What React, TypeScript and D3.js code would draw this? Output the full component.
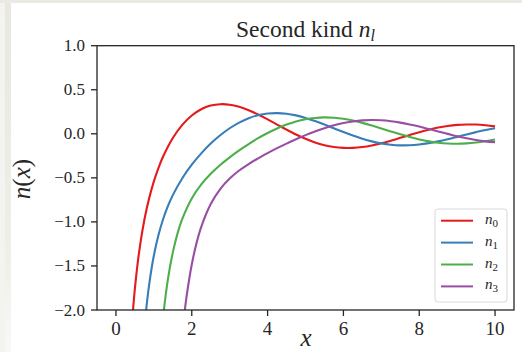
import React from "react";
import * as d3 from "d3";

// Values (x, n_l(x))
const n0Points: [number, number][] = [
  [0.4, -2.303], [0.45, -2.001], [0.5, -1.755], [0.6, -1.376], [0.75, -0.976], [0.875, -0.733],
  [1.0, -0.54], [1.125, -0.383], [1.25, -0.252], [1.5, -0.047], [1.75, 0.102], [2.0, 0.208],
  [2.25, 0.279], [2.5, 0.32], [2.75, 0.336], [3.0, 0.33], [3.25, 0.306], [3.5, 0.268],
  [3.75, 0.219], [4.0, 0.163], [4.25, 0.105], [4.5, 0.047], [4.75, -0.008], [5.0, -0.057],
  [5.25, -0.098], [5.5, -0.129], [5.75, -0.15], [6.0, -0.16], [6.25, -0.16], [6.5, -0.15],
  [6.75, -0.132], [7.0, -0.108], [7.25, -0.078], [7.5, -0.046], [7.75, -0.014], [8.0, 0.018],
  [8.25, 0.047], [8.5, 0.071], [8.75, 0.089], [9.0, 0.101], [9.25, 0.106], [9.5, 0.105],
  [9.75, 0.097], [10.0, 0.084],
];
const n1Points: [number, number][] = [
  [0.7, -2.481], [0.75, -2.21], [0.8, -1.985], [0.875, -1.714], [1.0, -1.382], [1.125, -1.143],
  [1.25, -0.961], [1.375, -0.816], [1.5, -0.696], [1.75, -0.504], [2.0, -0.351], [2.25, -0.222],
  [2.5, -0.111], [2.75, -0.017], [3.0, 0.063], [3.25, 0.127], [3.5, 0.177], [3.75, 0.211],
  [4.0, 0.23], [4.25, 0.235], [4.5, 0.228], [4.75, 0.209], [5.0, 0.18], [5.25, 0.145],
  [5.5, 0.105], [5.75, 0.062], [6.0, 0.02], [6.25, -0.02], [6.5, -0.056], [6.75, -0.086],
  [7.0, -0.109], [7.25, -0.124], [7.5, -0.131], [7.75, -0.13], [8.0, -0.121], [8.25, -0.106],
  [8.5, -0.086], [8.75, -0.062], [9.0, -0.035], [9.25, -0.007], [9.5, 0.019], [9.75, 0.043],
  [10.0, 0.063],
];
const n2Points: [number, number][] = [
  [1.2, -2.269], [1.25, -2.054], [1.375, -1.639], [1.5, -1.346], [1.625, -1.13], [1.75, -0.966],
  [2.0, -0.734], [2.25, -0.575], [2.5, -0.454], [2.75, -0.354], [3.0, -0.267], [3.25, -0.188],
  [3.5, -0.116], [3.75, -0.05], [4.0, 0.009], [4.25, 0.061], [4.5, 0.105], [4.75, 0.14],
  [5.0, 0.165], [5.25, 0.18], [5.5, 0.186], [5.75, 0.182], [6.0, 0.17], [6.25, 0.15],
  [6.5, 0.124], [6.75, 0.094], [7.0, 0.061], [7.25, 0.027], [7.5, -0.006], [7.75, -0.037],
  [8.0, -0.064], [8.25, -0.086], [8.5, -0.101], [8.75, -0.11], [9.0, -0.113], [9.25, -0.109],
  [9.5, -0.099], [9.75, -0.084], [10.0, -0.065],
];
const n3Points: [number, number][] = [
  [1.75, -2.256], [1.8, -2.06], [1.875, -1.81], [2.0, -1.484], [2.125, -1.241], [2.25, -1.056],
  [2.5, -0.797], [2.75, -0.627], [3.0, -0.508], [3.25, -0.417], [3.5, -0.343], [3.75, -0.278],
  [4.0, -0.219], [4.25, -0.163], [4.5, -0.111], [4.75, -0.062], [5.0, -0.015], [5.25, 0.027],
  [5.5, 0.064], [5.75, 0.096], [6.0, 0.122], [6.25, 0.14], [6.5, 0.152], [6.75, 0.156],
  [7.0, 0.153], [7.25, 0.143], [7.5, 0.127], [7.75, 0.106], [8.0, 0.082], [8.25, 0.054],
  [8.5, 0.026], [8.75, -0.001], [9.0, -0.028], [9.25, -0.051], [9.5, -0.071], [9.75, -0.086],
  [10.0, -0.095],
];

const seriesNames = ["0", "1", "2", "3"];
const seriesColors = ["#e41a1c", "#377eb8", "#4daf4a", "#984ea3"];
const seriesData = [n0Points, n1Points, n2Points, n3Points];

const xTicks = [0, 2, 4, 6, 8, 10];
const yTicks = [-2.0, -1.5, -1.0, -0.5, 0.0, 0.5, 1.0];

const W = 522;
const H = 352;
const TXT: React.CSSProperties = { fontFamily: "Liberation Serif" };
const INK = "#262626";

export default function App() {
  const left = 97, right = 514, top = 45.7, bottom = 310;
  const x = d3.scaleLinear().domain([-0.5, 10.5]).range([left, right]);
  const y = d3.scaleLinear().domain([-2, 1]).range([bottom, top]);
  const line = d3
    .line<[number, number]>()
    .x((d) => x(d[0]))
    .y((d) => y(d[1]))
    .curve(d3.curveCatmullRom.alpha(0.5));
  const fmt = (v: number) => (v < 0 ? "\u2212" : "") + Math.abs(v).toFixed(1);

  const legX = 435, legY = 209, legW = 72, legH = 93;
  const legStep = 21.9;

  return (
    <svg
      width={W}
      height={H}
      style={{ position: "absolute", left: 0, top: 0, display: "block" }}
    >
      <defs>
        <clipPath id="plotclip">
          <rect x={left} y={top} width={right - left} height={bottom - top} />
        </clipPath>
        <linearGradient id="strip" x1="0" y1="0" x2="0" y2="1">
          <stop offset="0" stopColor="#e8e8e0" />
          <stop offset="0.7" stopColor="#efefe9" />
          <stop offset="1" stopColor="#f8f8f5" />
        </linearGradient>
      </defs>
      <rect x={0} y={0} width={W} height={H} fill="#ffffff" />
      <rect x={0} y={0} width={5} height={H} fill="#f3f3ef" />
      <rect x={5} y={0} width={6} height={H} fill="url(#strip)" />
      <rect x={0} y={0} width={W} height={3} fill="#ebebe4" />

      {/* title */}
      <text style={TXT} x={(left + right) / 2} y={37} textAnchor="middle" fontSize={23.5} fill={INK}>
        Second kind{" "}
        <tspan fontStyle="italic">n</tspan>
        <tspan fontStyle="italic" fontSize={16} dy={4}>l</tspan>
      </text>

      {/* lines */}
      <g clipPath="url(#plotclip)">
        {seriesData.map((pts, i) => (
          <path
            key={i}
            d={line(pts) || ""}
            fill="none"
            stroke={seriesColors[i]}
            strokeWidth={2.1}
            strokeLinejoin="round"
          />
        ))}
      </g>

      {/* frame */}
      <rect
        x={left}
        y={top}
        width={right - left}
        height={bottom - top}
        fill="none"
        stroke={INK}
        strokeWidth={1.3}
      />

      {/* y ticks */}
      {yTicks.map((t) => (
        <g key={"y" + t}>
          <line x1={left - 6} x2={left} y1={y(t)} y2={y(t)} stroke={INK} strokeWidth={1.3} />
          <text style={TXT} x={left - 12} y={y(t) + 5.5} textAnchor="end" fontSize={17} fill={INK}>
            {fmt(t)}
          </text>
        </g>
      ))}

      {/* x ticks */}
      {xTicks.map((t) => (
        <g key={"x" + t}>
          <line x1={x(t)} x2={x(t)} y1={bottom} y2={bottom + 6} stroke={INK} strokeWidth={1.3} />
          <text style={TXT} x={x(t)} y={335} textAnchor="middle" fontSize={19} fill={INK}>
            {t}
          </text>
        </g>
      ))}

      {/* axis labels */}
      <text style={TXT} x={306} y={346} textAnchor="middle" fontSize={25} fontStyle="italic" fill={INK}>
        x
      </text>
      <text
        style={TXT}
        transform={`translate(30,179) rotate(-90)`}
        textAnchor="middle"
        fontSize={25}
        fill={INK}
      >
        <tspan fontStyle="italic">n</tspan>
        <tspan>(</tspan>
        <tspan fontStyle="italic">x</tspan>
        <tspan>)</tspan>
      </text>

      {/* legend */}
      <rect
        x={legX}
        y={legY}
        width={legW}
        height={legH}
        rx={3}
        fill="#ffffff"
        fillOpacity={0.8}
        stroke="#d8d8d8"
        strokeWidth={1}
      />
      {seriesNames.map((name, i) => {
        const cy = legY + 11.7 + i * legStep;
        return (
          <g key={"leg" + i}>
            <line x1={441} x2={473} y1={cy} y2={cy} stroke={seriesColors[i]} strokeWidth={2} />
            <text style={TXT} x={485} y={cy + 3} fontSize={15} fill={INK}>
              <tspan fontStyle="italic">n</tspan>
              <tspan fontSize={11} dy={3}>{name}</tspan>
            </text>
          </g>
        );
      })}
    </svg>
  );
}
